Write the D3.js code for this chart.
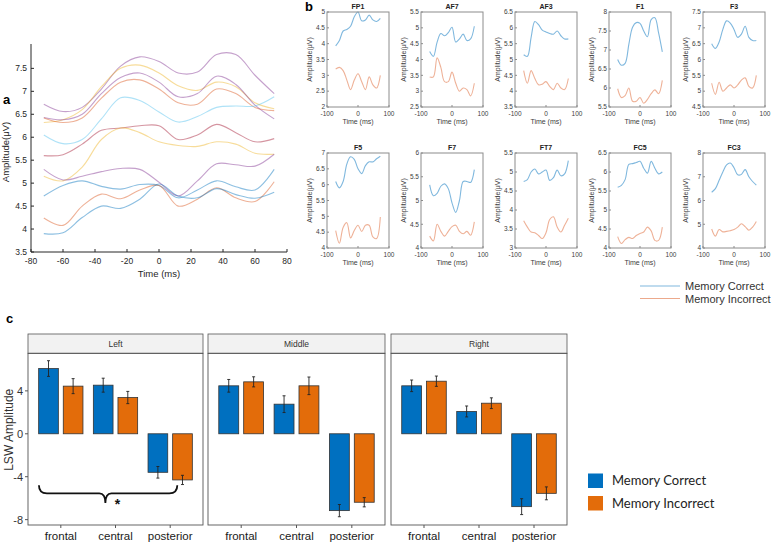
<!DOCTYPE html>
<html>
<head>
<meta charset="utf-8">
<script src="https://cdn.jsdelivr.net/npm/d3@7"></script>
<style>
  body { margin: 0; background: #fff; }
  svg { display: block; font-family: "Liberation Sans", Arial, sans-serif; }
</style>
</head>
<body>
<div id="chart"></div>
<script>
// sample times (ms) shared by all waveforms
const times = [-72, -60, -48, -36, -24, -12, 0, 12, 24, 36, 48, 60, 72];

// panel a: one waveform per trace
const aColors = ["#7E2F8E", "#EDB120", "#7E2F8E", "#D95319", "#4DBEEE", "#A2142F",
                 "#EDB120", "#7E2F8E", "#0072BD", "#D95319", "#0072BD"];
const aSeries = [
  [6.72, 6.56, 6.65, 7.05, 7.55, 7.75, 7.65, 7.4, 7.42, 7.8, 7.8, 7.35, 6.95],
  [6.32, 6.38, 6.6, 7.1, 7.5, 7.57, 7.4, 7.12, 7.02, 7.2, 7.1, 6.75, 6.62],
  [6.43, 6.38, 6.5, 6.95, 7.3, 7.4, 7.2, 6.88, 6.95, 7.33, 7.15, 6.7, 6.4],
  [6.42, 6.32, 6.42, 6.85, 7.2, 7.25, 7.05, 6.75, 6.72, 7.05, 6.95, 6.65, 6.58],
  [6.05, 5.86, 5.95, 6.4, 6.86, 6.8, 6.55, 6.33, 6.45, 6.65, 6.68, 6.68, 6.88],
  [5.6, 5.62, 5.85, 6.15, 6.2, 6.25, 6.25, 5.95, 6.05, 6.28, 6.1, 5.9, 5.97],
  [5.15, 5.05, 5.35, 5.95, 6.2, 6.1, 5.9, 5.82, 5.8, 5.9, 5.85, 5.65, 5.63],
  [5.3, 5.07, 5.15, 5.25, 5.32, 5.3, 5.02, 4.72, 5.05, 5.42, 5.4, 5.37, 5.63],
  [4.72, 4.95, 5.05, 4.93, 4.87, 4.97, 4.95, 4.68, 4.85, 5.05, 4.92, 4.85, 5.3],
  [4.24, 4.08, 4.5, 4.76, 4.66, 4.85, 4.95, 4.5, 4.65, 4.9, 4.68, 4.6, 5.03],
  [3.9, 3.92, 4.25, 4.5, 4.45, 4.65, 4.98, 4.72, 4.68, 4.88, 4.75, 4.67, 4.8]
];
const aXTicks = [-80, -60, -40, -20, 0, 20, 40, 60, 80];
const aYTicks = [3.5, 4, 4.5, 5, 5.5, 6, 6.5, 7, 7.5];

// panel b: per channel averages
const channels = ["FP1", "AF7", "AF3", "F1", "F3", "F5", "F7", "FT7", "FC5", "FC3"];
const yLims = [[2, 5], [2.5, 5.5], [3.5, 6.5], [5.5, 8], [4.5, 7.5], [4, 7], [4, 6], [3, 5.5], [4, 6.5], [4, 8]];
const yStep = [0.5, 0.5, 0.5, 0.5, 0.5, 0.5, 0.5, 0.5, 0.5, 1];
const correct = [
  [3.93, 4.1, 4.4, 4.45, 4.55, 4.85, 5.0, 4.72, 4.75, 4.9, 4.75, 4.7, 4.8],
  [4.25, 4.1, 4.55, 4.82, 4.75, 4.85, 5.02, 4.55, 4.65, 4.8, 4.6, 4.65, 5.05],
  [5.15, 5.1, 5.7, 6.2, 6.1, 5.93, 5.87, 5.82, 5.8, 5.9, 5.75, 5.65, 5.65],
  [6.75, 6.6, 6.65, 7.15, 7.6, 7.72, 7.7, 7.5, 7.35, 7.8, 7.85, 7.45, 6.95],
  [6.5, 6.35, 6.55, 6.95, 7.22, 7.15, 6.95, 6.7, 6.8, 7.05, 6.7, 6.6, 6.6],
  [6.1, 5.9, 6.1, 6.65, 6.88, 6.8, 6.5, 6.35, 6.6, 6.72, 6.72, 6.82, 6.9],
  [5.33, 5.1, 5.15, 5.3, 5.35, 5.25, 4.95, 4.75, 5.0, 5.4, 5.4, 5.38, 5.65],
  [4.75, 4.8, 5.0, 5.08, 4.95, 5.0, 5.05, 4.78, 4.85, 5.05, 4.9, 4.95, 5.3],
  [5.6, 5.65, 5.8, 6.2, 6.22, 6.25, 6.28, 6.1, 5.97, 6.28, 6.1, 5.95, 6.0],
  [6.35, 6.5, 6.85, 7.2, 7.5, 7.58, 7.38, 7.08, 7.1, 7.3, 7.0, 6.8, 6.65]
];
const incorrect = [
  [3.2, 3.25, 3.15, 2.85, 2.55, 2.85, 3.05, 2.8, 2.55, 2.95, 2.7, 2.6, 3.0],
  [3.45, 3.45, 4.05, 3.75, 3.3, 3.3, 3.6, 3.25, 3.0, 3.1, 3.05, 2.85, 3.25],
  [4.65, 4.25, 4.65, 4.4, 4.2, 4.22, 4.3, 4.15, 4.05, 4.25, 4.1, 4.05, 4.4],
  [5.98, 5.75, 5.8, 6.0, 5.65, 5.65, 5.75, 5.6, 5.7, 5.85, 5.95, 5.85, 6.2],
  [5.25, 4.9, 5.28, 5.0, 5.1, 5.2, 5.1, 5.2, 5.35, 5.42, 5.15, 5.1, 5.5],
  [4.55, 4.15, 4.65, 4.8, 4.32, 4.55, 4.72, 4.52, 4.72, 4.72, 4.35, 4.3, 4.98],
  [4.25, 4.15, 4.5, 4.35, 4.25, 4.35, 4.45, 4.48, 4.35, 4.3, 4.35, 4.27, 4.55],
  [3.72, 3.55, 3.42, 3.4, 3.33, 3.25, 3.4, 3.75, 3.82, 3.55, 3.42, 3.6, 3.78],
  [4.3, 4.12, 4.22, 4.28, 4.25, 4.33, 4.38, 4.42, 4.55, 4.45, 4.2, 4.2, 4.55],
  [4.8, 4.5, 4.78, 4.68, 4.7, 4.73, 4.78, 4.88, 5.02, 4.9, 4.75, 4.88, 5.12]
];
const bXTicks = [-100, 0, 100];

// panel c: LSW amplitude by region and site
const regions = ["Left", "Middle", "Right"];
const sites = ["frontal", "central", "posterior"];
const lswCorrect = [[6.08, 4.53, -3.59], [4.47, 2.76, -7.16], [4.47, 2.08, -6.79]];
const seCorrect = [[0.73, 0.65, 0.54], [0.59, 0.78, 0.57], [0.54, 0.51, 0.74]];
const lswIncorrect = [[4.44, 3.38, -4.3], [4.84, 4.47, -6.38], [4.9, 2.85, -5.55]];
const seIncorrect = [[0.7, 0.57, 0.43], [0.47, 0.82, 0.43], [0.48, 0.5, 0.6]];
const cYTicks = [4, 0, -4, -8];
const conditions = ["Memory Correct", "Memory Incorrect"];

const W = 774, H = 542;
const svg = d3.select("#chart").append("svg").attr("width", W).attr("height", H);
const ink = "#262626";
const curve = d3.curveCatmullRom.alpha(0.5);

// ---------- panel a ----------
{
  const x = d3.scaleLinear().domain([-80, 80]).range([31, 287]);
  const y = d3.scaleLinear().domain([3.5, 7.9]).range([252, 50]);
  const g = svg.append("g");
  const line = d3.line().x((d, i) => x(times[i])).y(d => y(d)).curve(curve);

  g.selectAll("path.trace").data(aSeries).join("path")
    .attr("class", "trace")
    .attr("d", line)
    .attr("fill", "none")
    .attr("stroke", (d, i) => aColors[i])
    .attr("stroke-opacity", 0.45)
    .attr("stroke-width", 1.1);

  g.append("line").attr("x1", 31).attr("x2", 287).attr("y1", 252).attr("y2", 252).attr("stroke", ink);
  g.append("line").attr("x1", 31).attr("x2", 31).attr("y1", 252).attr("y2", 44).attr("stroke", ink);

  g.selectAll("line.xt").data(aXTicks).join("line").attr("class", "xt")
    .attr("x1", d => x(d)).attr("x2", d => x(d)).attr("y1", 252).attr("y2", 249).attr("stroke", ink);
  g.selectAll("text.xl").data(aXTicks).join("text").attr("class", "xl")
    .attr("x", d => x(d)).attr("y", 264).attr("text-anchor", "middle")
    .attr("font-size", 8.5).attr("fill", ink).text(d => d);
  g.selectAll("line.yt").data(aYTicks).join("line").attr("class", "yt")
    .attr("x1", 31).attr("x2", 34).attr("y1", d => y(d)).attr("y2", d => y(d)).attr("stroke", ink);
  g.selectAll("text.yl").data(aYTicks).join("text").attr("class", "yl")
    .attr("x", 27).attr("y", d => y(d) + 3).attr("text-anchor", "end")
    .attr("font-size", 8.5).attr("fill", ink).text(d => d);

  g.append("text").attr("x", 159).attr("y", 277).attr("text-anchor", "middle")
    .attr("font-size", 9.5).attr("fill", ink).text("Time (ms)");
  g.append("text").attr("transform", "translate(9,152) rotate(-90)").attr("text-anchor", "middle")
    .attr("font-size", 9.5).attr("fill", ink).text("Amplitude(μV)");
  svg.append("text").attr("x", 3).attr("y", 104).attr("font-size", 13).attr("font-weight", "bold").text("a");
}

// ---------- panel b ----------
{
  svg.append("text").attr("x", 305).attr("y", 11).attr("font-size", 13).attr("font-weight", "bold").text("b");
  const colLeft = d3.range(5).map(c => 327 + c * 94);
  const rowTop = [12, 153];
  const bw = 62, bh = 95;

  channels.forEach((name, i) => {
    const x0 = colLeft[i % 5], y0 = rowTop[Math.floor(i / 5)];
    const x = d3.scaleLinear().domain([-100, 100]).range([x0, x0 + bw]);
    const y = d3.scaleLinear().domain(yLims[i]).range([y0 + bh, y0]);
    const g = svg.append("g");
    const line = d3.line().x((d, k) => x(times[k])).y(d => y(d)).curve(curve);

    g.append("path").attr("d", line(correct[i])).attr("fill", "none")
      .attr("stroke", "#0072BD").attr("stroke-opacity", 0.5).attr("stroke-width", 1.1);
    g.append("path").attr("d", line(incorrect[i])).attr("fill", "none")
      .attr("stroke", "#D95319").attr("stroke-opacity", 0.45).attr("stroke-width", 1.1);

    g.append("rect").attr("x", x0).attr("y", y0).attr("width", bw).attr("height", bh)
      .attr("fill", "none").attr("stroke", "#8c8c8c").attr("stroke-width", 1);

    const yt = d3.range(yLims[i][0], yLims[i][1] + 1e-6, yStep[i]);
    g.selectAll("line.yt").data(yt).join("line").attr("class", "yt")
      .attr("x1", x0).attr("x2", x0 + 2).attr("y1", d => y(d)).attr("y2", d => y(d)).attr("stroke", "#8c8c8c");
    g.selectAll("text.yl").data(yt).join("text").attr("class", "yl")
      .attr("x", x0 - 2).attr("y", d => y(d) + 2.3).attr("text-anchor", "end")
      .attr("font-size", 6.5).attr("fill", "#404040").text(d => +d.toFixed(1));
    g.selectAll("text.xl").data(bXTicks).join("text").attr("class", "xl")
      .attr("x", d => x(d)).attr("y", y0 + bh + 8.5).attr("text-anchor", "middle")
      .attr("font-size", 6.5).attr("fill", "#404040").text(d => d);
    g.selectAll("line.xt").data(bXTicks).join("line").attr("class", "xt")
      .attr("x1", d => x(d)).attr("x2", d => x(d)).attr("y1", y0 + bh).attr("y2", y0 + bh - 2).attr("stroke", "#8c8c8c");

    g.append("text").attr("x", x0 + bw / 2).attr("y", y0 - 3).attr("text-anchor", "middle")
      .attr("font-size", 7).attr("font-weight", "bold").attr("fill", "#222").text(name);
    g.append("text").attr("x", x0 + bw / 2).attr("y", y0 + bh + 17).attr("text-anchor", "middle")
      .attr("font-size", 7).attr("fill", "#404040").text("Time (ms)");
    g.append("text").attr("transform", `translate(${x0 - 15},${y0 + bh / 2}) rotate(-90)`)
      .attr("text-anchor", "middle").attr("font-size", 7).attr("fill", "#404040").text("Amplitude(μV)");
  });

  const lg = svg.append("g");
  [["#0072BD", 286], ["#D95319", 298.5]].forEach(([c, yy], k) => {
    lg.append("line").attr("x1", 640).attr("x2", 680).attr("y1", yy).attr("y2", yy)
      .attr("stroke", c).attr("stroke-opacity", 0.5).attr("stroke-width", 1.2);
    lg.append("text").attr("x", 685).attr("y", yy + 4).attr("font-size", 11).attr("fill", "#333").text(conditions[k]);
  });
}

// ---------- panel c ----------
{
  svg.append("text").attr("x", 6).attr("y", 323).attr("font-size", 13).attr("font-weight", "bold").text("c");
  const panelX = [[28, 203], [208, 385], [391, 567]];
  const stripTop = 334, top = 353.3, bottom = 525;
  const y = d3.scaleLinear().domain([-8.5, 7.5]).range([bottom, top]);
  const fills = ["#0070C0", "#E36C0A"];

  regions.forEach((reg, r) => {
    const [pl, pr] = panelX[r];
    const x = d3.scalePoint().domain(sites).range([pl, pr]).padding(0.6);
    const step = x.step();
    const g = svg.append("g");

    g.append("rect").attr("x", pl).attr("y", stripTop).attr("width", pr - pl).attr("height", top - stripTop)
      .attr("fill", "#f2f2f2").attr("stroke", "#555").attr("stroke-width", 0.8);
    g.append("text").attr("x", (pl + pr) / 2).attr("y", (stripTop + top) / 2 + 3)
      .attr("text-anchor", "middle").attr("font-size", 8.5).attr("fill", "#333").text(reg);

    const bars = sites.flatMap((s, j) => [
      { s, k: 0, v: lswCorrect[r][j], e: seCorrect[r][j] },
      { s, k: 1, v: lswIncorrect[r][j], e: seIncorrect[r][j] }
    ]);
    const cx = d => x(d.s) + (d.k === 0 ? -0.225 : 0.225) * step;
    const bwid = 0.36 * step;
    g.selectAll("rect.bar").data(bars).join("rect").attr("class", "bar")
      .attr("x", d => cx(d) - bwid / 2).attr("width", bwid)
      .attr("y", d => y(Math.max(0, d.v))).attr("height", d => Math.abs(y(d.v) - y(0)))
      .attr("fill", d => fills[d.k]).attr("stroke", "#333").attr("stroke-width", 0.8);
    g.selectAll("path.err").data(bars).join("path").attr("class", "err")
      .attr("d", d => {
        const a = y(d.v + d.e), b = y(d.v - d.e), c = cx(d);
        return `M${c - 1.5},${a}H${c + 1.5}M${c},${a}V${b}M${c - 1.5},${b}H${c + 1.5}`;
      })
      .attr("fill", "none").attr("stroke", "#222").attr("stroke-width", 0.9);

    g.append("rect").attr("x", pl).attr("y", top).attr("width", pr - pl).attr("height", bottom - top)
      .attr("fill", "none").attr("stroke", "#555").attr("stroke-width", 0.9);

    g.selectAll("line.xt").data(sites).join("line").attr("class", "xt")
      .attr("x1", d => x(d)).attr("x2", d => x(d)).attr("y1", bottom).attr("y2", bottom + 3).attr("stroke", "#555");
    g.selectAll("text.xl").data(sites).join("text").attr("class", "xl")
      .attr("x", d => x(d)).attr("y", 540).attr("text-anchor", "middle")
      .attr("font-size", 11.5).attr("fill", "#1a1a1a").text(d => d);

    if (r === 0) {
      g.selectAll("line.yt").data(cYTicks).join("line").attr("class", "yt")
        .attr("x1", pl - 3).attr("x2", pl).attr("y1", d => y(d)).attr("y2", d => y(d)).attr("stroke", "#555");
      g.selectAll("text.yl").data(cYTicks).join("text").attr("class", "yl")
        .attr("x", pl - 5).attr("y", d => y(d) + 4).attr("text-anchor", "end")
        .attr("font-size", 11).attr("fill", "#333").text(d => d);

      // significance brace under the Left panel
      const xa = x("frontal") - 0.4 * step, xb = x("posterior") + 0.13 * step;
      const xm = (xa + xb) / 2 - 0.05 * step;
      const yt = y(-4.8), yh = y(-5.55), ytip = y(-6.45);
      g.append("path")
        .attr("d", `M${xa},${yt} Q${xa},${yh} ${xa + 8},${yh} L${xm - 6},${yh} Q${xm},${yh} ${xm},${ytip}` +
                   ` Q${xm},${yh} ${xm + 6},${yh} L${xb - 8},${yh} Q${xb},${yh} ${xb},${yt}`)
        .attr("fill", "none").attr("stroke", "#111").attr("stroke-width", 1.8);
      g.append("text").attr("x", xm + 12).attr("y", ytip + 6).attr("text-anchor", "middle")
        .attr("font-size", 14).attr("font-weight", "bold").attr("fill", "#111").text("*");
    }
  });

  svg.append("text").attr("transform", `translate(13,${y(0) - 4}) rotate(-90)`)
    .attr("text-anchor", "middle").attr("font-size", 12).attr("fill", "#333").text("LSW Amplitude");

  const lg = svg.append("g");
  [473.5, 496].forEach((yy, k) => {
    lg.append("rect").attr("x", 588).attr("y", yy).attr("width", 15).attr("height", 14.5).attr("fill", fills[k]);
    lg.append("text").attr("x", 612).attr("y", yy + 11.5).attr("font-family", "Lato, 'Open Sans', sans-serif")
      .attr("font-size", 13).attr("fill", "#222").text(conditions[k]);
  });
}
</script>
</body>
</html>
